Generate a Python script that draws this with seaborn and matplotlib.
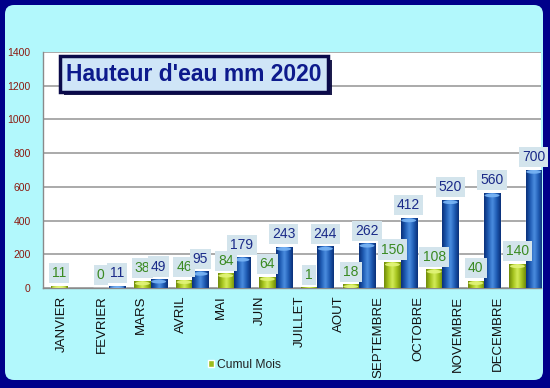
import numpy as np
import pandas as pd
import matplotlib
matplotlib.use("Agg")
import matplotlib.pyplot as plt
import seaborn as sns
from matplotlib.patches import FancyBboxPatch, Rectangle, Ellipse
from matplotlib.colors import LinearSegmentedColormap
from matplotlib.ticker import MultipleLocator
from matplotlib.transforms import IdentityTransform
import matplotlib.patheffects as pe

# ---- data ----
months = ["JANVIER", "FEVRIER", "MARS", "AVRIL", "MAI", "JUIN",
          "JUILLET", "AOUT", "SEPTEMBRE", "OCTOBRE", "NOVEMBRE", "DECEMBRE"]
mois = [11, 0, 38, 46, 84, 64, 1, 18, 150, 108, 40, 140]
cumul = [np.nan, 11, 49, 95, 179, 243, 244, 262, 412, 520, 560, 700]
y_ticks = [0, 200, 400, 600, 800, 1000, 1200, 1400]
title = "Hauteur d'eau mm 2020"
legend_label = "Cumul Mois"

# ---- style ----
sns.set_style("white")
plt.rcParams["font.family"] = ["Liberation Sans", "DejaVu Sans"]

GREEN = "#9cbc1c"
BLUE = "#1f5cb4"
green_cmap = LinearSegmentedColormap.from_list(
    "g", ["#6e8a0a", "#a6c41e", "#d4ec5a", "#a6c41e", "#6e8a0a"])
blue_cmap = LinearSegmentedColormap.from_list(
    "b", ["#0a2f78", "#1f5cb4", "#4c8ee0", "#1f5cb4", "#0a2f78"])

df = pd.DataFrame({
    "mois": months * 2,
    "serie": ["Mois"] * 12 + ["Cumul"] * 12,
    "valeur": mois + cumul,
})

fig = plt.figure(figsize=(5.5, 3.88), dpi=100, facecolor="#00008a")
panel = FancyBboxPatch((5, 8), 538, 375,
                       boxstyle="round,pad=0,rounding_size=9",
                       transform=IdentityTransform(),
                       facecolor="#b2f8fc", edgecolor="none", zorder=-5)
fig.patches.append(panel)

ax = fig.add_axes([43 / 550, 100 / 388, 498 / 550, 236 / 388])
ax.set_facecolor("white")

sns.barplot(data=df, x="mois", y="valeur", hue="serie",
            hue_order=["Mois", "Cumul"], palette=[GREEN, BLUE],
            order=months, width=0.78, saturation=1, legend=False,
            ax=ax, zorder=3)

grad = np.linspace(0, 1, 64)[None, :]
label_specs = [(green_cmap, "#e2f47a", "#3a8a22"),
               (blue_cmap, "#7ab6f6", "#1a2a88")]
for cont, (cmap, capc, txtc) in zip(ax.containers, label_specs):
    for bar in cont:
        h = bar.get_height()
        if not np.isfinite(h):
            continue
        x0, w = bar.get_x(), bar.get_width()
        if h > 0:
            ax.imshow(grad, cmap=cmap, extent=[x0, x0 + w, 0, h],
                      aspect="auto", zorder=3.5, interpolation="bicubic")
            eh = min(22, h)
            ax.add_patch(Ellipse((x0 + w / 2, h - eh / 2), w * 0.92, eh,
                                 facecolor=capc, edgecolor="none",
                                 zorder=3.6, alpha=0.9))
        ax.annotate(f"{h:.0f}", (x0 + w / 2, h), xytext=(0, 9.5),
                    textcoords="offset points", ha="center", va="center",
                    fontsize=10, color=txtc, zorder=5,
                    bbox=dict(boxstyle="square,pad=0.22", fc="#d3e4ec",
                              ec="none"))

ax.set_xlim(-0.58, 11.37)
ax.set_ylim(0, 1400)
ax.set_yticks(y_ticks)
ax.yaxis.set_minor_locator(MultipleLocator(40))
ax.grid(axis="y", color="#9c9c9c", linewidth=1.2, zorder=1)
ax.set_axisbelow(True)
for s in ["top", "right"]:
    ax.spines[s].set_visible(False)
for s in ["left", "bottom"]:
    ax.spines[s].set_color("#8a8a8a")
    ax.spines[s].set_linewidth(1.0)

ax.tick_params(axis="y", which="major", length=4, color="#707070",
               labelsize=7.5, labelcolor="#8b1a10", pad=5)
ax.tick_params(axis="y", which="minor", length=2.5, color="#707070")
ax.set_xticks(np.arange(len(months)) * 0.95 - 0.12)
ax.set_xticklabels(months, rotation=90, fontsize=9.5, color="#111111",
                   ha="center", va="top")
ax.tick_params(axis="x", length=0, pad=5.5)
ax.set_xlabel("")
ax.set_ylabel("")

t = fig.text(0.353, 0.809, title, ha="center", va="center",
             fontsize=16.5, fontweight="bold", color="#0d1a8c",
             bbox=dict(boxstyle="square,pad=0.27", fc="#cfe5f7",
                       ec="#0a0a4a", lw=2.5), zorder=10)
t.get_bbox_patch().set_path_effects(
    [pe.SimplePatchShadow(offset=(2.5, -2.5), shadow_rgbFace="#05053a",
                          alpha=0.9), pe.Normal()])

fig.legend(handles=[Rectangle((0, 0), 1, 1, facecolor=GREEN)],
           labels=[legend_label], loc="center",
           bbox_to_anchor=(0.444, 0.059), frameon=False, fontsize=8.7,
           handlelength=0.5, handleheight=0.5, handletextpad=0.25,
           labelcolor="#222222")

fig.savefig("out.png", dpi=100, facecolor=fig.get_facecolor())
